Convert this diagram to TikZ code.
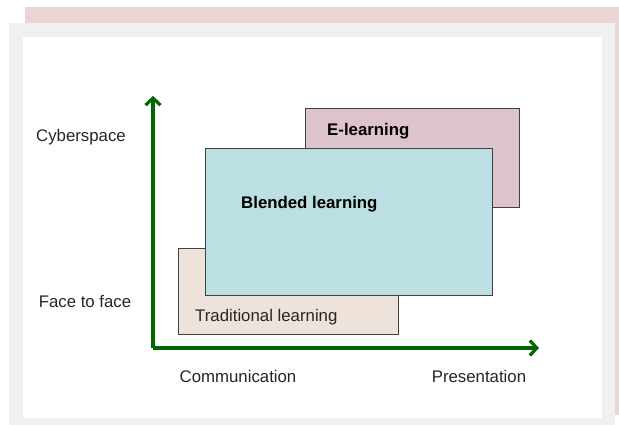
\documentclass[tikz,border=0pt]{standalone}
\usepackage{fontspec}
\setmainfont{Liberation Sans}
\usetikzlibrary{arrows.meta}
\definecolor{pinkbg}{HTML}{E8D5D6}
\definecolor{framegray}{HTML}{F0F0F0}
\definecolor{axisgreen}{HTML}{006600}
\definecolor{efill}{HTML}{DDC3CB}
\definecolor{bfill}{HTML}{BBDFE2}
\definecolor{tfill}{HTML}{EDE3DA}
\definecolor{edgegray}{HTML}{404040}
\tikzset{
  box/.style={draw=edgegray, line width=1pt},
  lbl/.style={font=\fontsize{16.8}{19}\selectfont, text=black!85, inner sep=0pt},
  blbl/.style={font=\fontsize{16.8}{19}\selectfont\bfseries, text=black, inner sep=0pt},
  axis/.style={draw=axisgreen, line width=3.2pt, -{Straight Barb[length=7pt,width=15pt]}}
}
\begin{document}
\begin{tikzpicture}[x=1pt,y=-1pt]
\useasboundingbox (0,0) rectangle (619,425);
% backgrounds
\fill[pinkbg] (25,7) rectangle (619,415);
\fill[framegray] (9,23) rectangle (615,425);
\fill[white] (23,37) rectangle (602,418);
% rectangles
\path[box, fill=efill] (305,109) rectangle (519,208);
\path[box, fill=tfill] (178,248) rectangle (398,334);
\path[box, fill=bfill] (205,149) rectangle (492,295);
\node[blbl, anchor=west] (elearn) at (327,131) {E-learning};
\node[blbl, anchor=west] (blend) at (241,204) {Blended learning};
\node[lbl, anchor=west] (trad) at (195,317) {Traditional learning};
% axes
\coordinate (origin) at (153,348);
\coordinate (ytip) at (153,96);
\coordinate (xtip) at (539,348);
\draw[axis] (origin) -- (ytip);
\draw[axis] (origin) -- (xtip);
% labels
\node[lbl] (cyber) at (81,137) {Cyberspace};
\node[lbl] (face) at (85,302) {Face to face};
\node[lbl] (comm) at (238,376) {Communication};
\node[lbl] (pres) at (479,376) {Presentation};
\end{tikzpicture}
\end{document}
